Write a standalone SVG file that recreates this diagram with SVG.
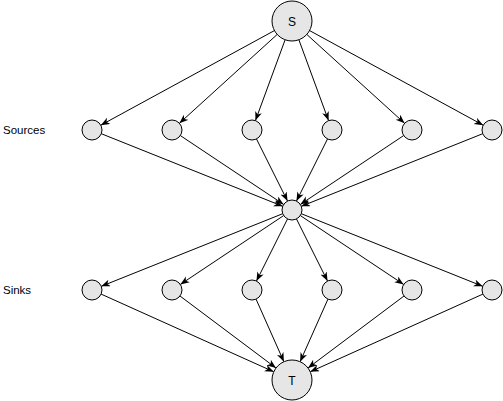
<svg xmlns="http://www.w3.org/2000/svg" width="503" height="401" viewBox="0 0 503 401">
<defs>
<marker id="arr" markerUnits="userSpaceOnUse" markerWidth="10" markerHeight="8" refX="9" refY="3.5" orient="auto">
<path d="M0,0 L9,3.5 L0,7 L2.5,3.5 z" fill="#000"/>
</marker>
<style>
.n{fill:#e6e6e6;stroke:#000;stroke-width:1}
.e line{stroke:#000;stroke-width:1;fill:none;marker-end:url(#arr)}
.t{font-family:"Liberation Sans",Arial,sans-serif;font-size:12px;fill:#000}
.lbl{font-family:"Liberation Sans",Arial,sans-serif;font-size:11.5px;fill:#000}
</style>
</defs>
<rect width="503" height="401" fill="#fff"/>
<g id="connectors" class="e">
<line x1="274.44" y1="30.57" x2="100.78" y2="125.21"/>
<line x1="277.20" y1="34.45" x2="179.40" y2="123.28"/>
<line x1="285.11" y1="39.78" x2="255.45" y2="120.61"/>
<line x1="298.89" y1="39.78" x2="328.55" y2="120.61"/>
<line x1="306.80" y1="34.45" x2="404.60" y2="123.28"/>
<line x1="309.56" y1="30.57" x2="483.22" y2="125.21"/>
<line x1="101.28" y1="133.71" x2="282.72" y2="206.29"/>
<line x1="180.32" y1="135.55" x2="283.68" y2="204.45"/>
<line x1="256.47" y1="138.94" x2="287.53" y2="201.06"/>
<line x1="327.53" y1="138.94" x2="296.47" y2="201.06"/>
<line x1="403.68" y1="135.55" x2="300.32" y2="204.45"/>
<line x1="482.72" y1="133.71" x2="301.28" y2="206.29"/>
<line x1="282.72" y1="213.71" x2="101.28" y2="286.29"/>
<line x1="283.68" y1="215.55" x2="180.32" y2="284.45"/>
<line x1="287.53" y1="218.94" x2="256.47" y2="281.06"/>
<line x1="296.47" y1="218.94" x2="327.53" y2="281.06"/>
<line x1="300.32" y1="215.55" x2="403.68" y2="284.45"/>
<line x1="301.28" y1="213.71" x2="482.72" y2="286.29"/>
<line x1="101.12" y1="294.10" x2="273.76" y2="371.79"/>
<line x1="180" y1="296" x2="276" y2="368"/>
<line x1="256.06" y1="299.14" x2="283.88" y2="361.72"/>
<line x1="327.94" y1="299.14" x2="300.12" y2="361.72"/>
<line x1="404" y1="296" x2="308" y2="368"/>
<line x1="482.88" y1="294.10" x2="310.24" y2="371.79"/>
</g>
<g id="S"><circle class="n" cx="292" cy="21" r="20"/><text class="t" x="292" y="25.5" text-anchor="middle">S</text></g>
<g id="src1"><circle class="n" cx="92" cy="130" r="10"/></g>
<g id="src2"><circle class="n" cx="172" cy="130" r="10"/></g>
<g id="src3"><circle class="n" cx="252" cy="130" r="10"/></g>
<g id="src4"><circle class="n" cx="332" cy="130" r="10"/></g>
<g id="src5"><circle class="n" cx="412" cy="130" r="10"/></g>
<g id="src6"><circle class="n" cx="492" cy="130" r="10"/></g>
<g id="M"><circle class="n" cx="292" cy="210" r="10"/></g>
<g id="snk1"><circle class="n" cx="92" cy="290" r="10"/></g>
<g id="snk2"><circle class="n" cx="172" cy="290" r="10"/></g>
<g id="snk3"><circle class="n" cx="252" cy="290" r="10"/></g>
<g id="snk4"><circle class="n" cx="332" cy="290" r="10"/></g>
<g id="snk5"><circle class="n" cx="412" cy="290" r="10"/></g>
<g id="snk6"><circle class="n" cx="492" cy="290" r="10"/></g>
<g id="T"><circle class="n" cx="292" cy="380" r="20"/><text class="t" x="292" y="384.5" text-anchor="middle">T</text></g>
<g id="label-sources"><text class="lbl" x="3" y="134">Sources</text></g>
<g id="label-sinks"><text class="lbl" x="3" y="294">Sinks</text></g>
</svg>
